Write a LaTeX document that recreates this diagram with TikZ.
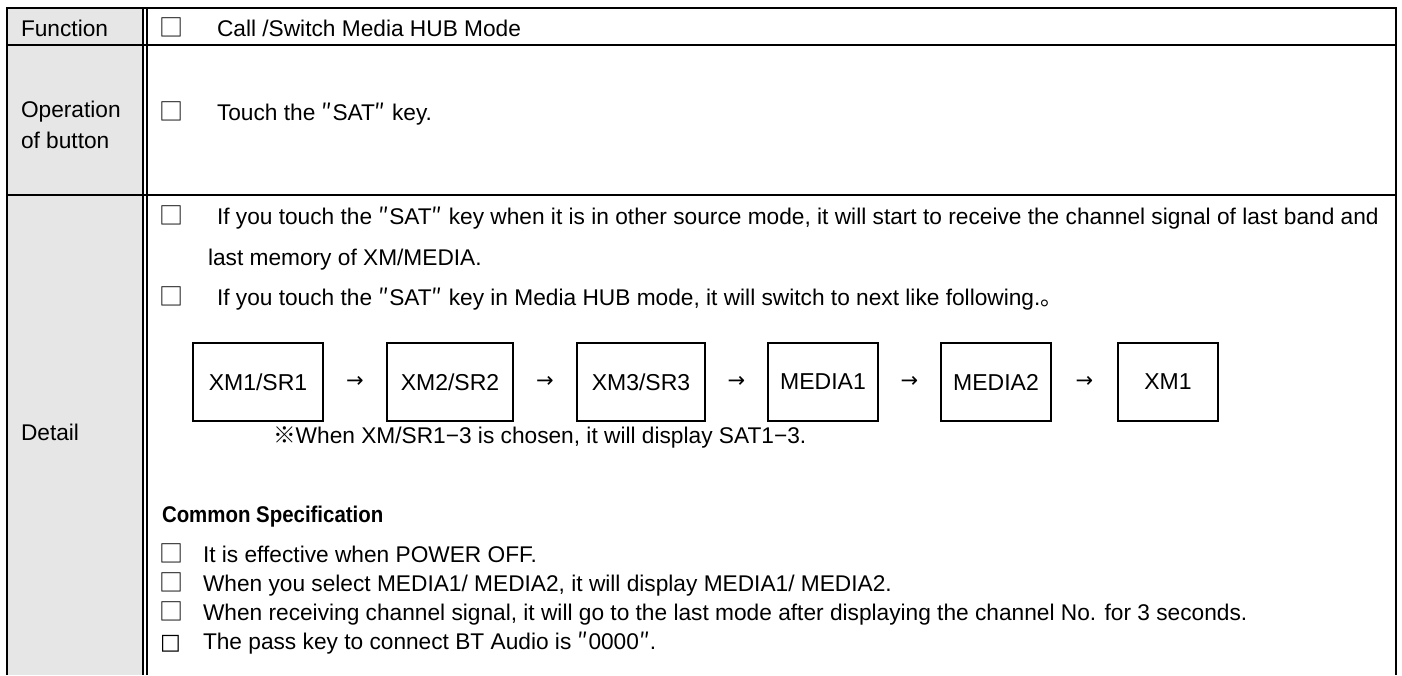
\documentclass[tikz,border=0pt]{standalone}
\usepackage{graphicx}
\usepackage{fontspec}
\setmainfont{Liberation Sans}
\newfontfamily\cjkfont{Noto Sans CJK JP}
\newfontfamily\djvfont{DejaVu Sans}
\newcommand{\ckbox}{{\cjkfont □}}
\newcommand{\dq}{{\cjkfont ″}}
\definecolor{labelgray}{HTML}{E6E6E6}
\begin{document}
\begin{tikzpicture}[x=1pt,y=-1pt,
  every node/.style={inner sep=0pt, outer sep=0pt, font=\fontsize{22.7}{26}\selectfont},
  txt/.style={anchor=base west},
  lbl/.style={anchor=base west},
  cbox/.style={anchor=base west, font=\fontsize{24}{26}\selectfont},
  flowbox/.style={draw, line width=1.6pt, minimum height=78pt, anchor=center, font=\fontsize{23}{26}\selectfont},
  arrowtxt/.style={font=\fontsize{21}{24}\djvfont}]
\useasboundingbox (0,0) rectangle (1402,675);
% label column
\fill[labelgray] (7,8) rectangle (143,675);
% frame
\draw[line width=2pt] (7,675) -- (7,8) -- (1396,8) -- (1396,675);
\draw[line width=1.7pt] (7,45) -- (1396,45);
\draw[line width=1.7pt] (7,195) -- (1396,195);
\draw[line width=1.3pt] (143,8) -- (143,675);
\draw[line width=1.3pt] (147,8) -- (147,675);
% labels
\node[lbl] (lfun) at (21,36) {Function};
\node[lbl] (lop1) at (21,117) {Operation};
\node[lbl] (lop2) at (21,148) {of button};
\node[lbl] (ldet) at (21,440) {Detail};
% row 1
\node[cbox] (c1) at (159,36) {\ckbox};
\node[txt] (t1) at (217,36) {Call /Switch Media HUB Mode};
% row 2
\node[cbox] (c2) at (159,120) {\ckbox};
\node[txt] (t2) at (217,120) {Touch the \dq SAT\dq\ key.};
% detail
\node[cbox] (c3) at (159,224) {\ckbox};
\node[txt] (t3) at (217,224) {If you touch the \dq SAT\dq\ key when it is in other source mode, it will start to receive the channel signal of last band and};
\node[txt] (t4) at (208,265) {last memory of XM/MEDIA.};
\node[cbox] (c5) at (159,305) {\ckbox};
\node[txt] (t5) at (217,305) {If you touch the \dq SAT\dq\ key in Media HUB mode, it will switch to next like following.{\cjkfont 。}};
% flow
\node[flowbox, minimum width=130pt] (b1) at (258,382) {XM1/SR1};
\node[flowbox, minimum width=126pt] (b2) at (450,382) {XM2/SR2};
\node[flowbox, minimum width=128pt] (b3) at (641,382) {XM3/SR3};
\node[flowbox, minimum width=110pt] (b4) at (823,382) {MEDIA1};
\node[flowbox, minimum width=110pt] (b5) at (996,382) {MEDIA2};
\node[flowbox, minimum width=100pt] (b6) at (1168,382) {XM1};
\path (b1) -- node[arrowtxt] (a1) {→} (b2);
\path (b2) -- node[arrowtxt] (a2) {→} (b3);
\path (b3) -- node[arrowtxt] (a3) {→} (b4);
\path (b4) -- node[arrowtxt] (a4) {→} (b5);
\path (b5) -- node[arrowtxt] (a5) {→} (b6);
\node[txt] (note) at (273,443) {{\cjkfont ※}When XM/SR1−3 is chosen, it will display SAT1−3.};
% common spec
\node[txt, font=\fontsize{22.7}{26}\selectfont\bfseries] (cs) at (162,522) {\scalebox{0.9}[1]{Common Specification}};
\node[cbox] (c6) at (159,562) {\ckbox};
\node[txt] (t6) at (203,562) {It is effective when POWER OFF.};
\node[cbox] (c7) at (159,591) {\ckbox};
\node[txt] (t7) at (203,591) {When you select MEDIA1/ MEDIA2, it will display MEDIA1/ MEDIA2.};
\node[cbox] (c8) at (159,620) {\ckbox};
\node[txt] (t8) at (203,620) {When receiving channel signal, it will go to the last mode after displaying the channel No. for 3 seconds.};
\node[anchor=base west, font=\fontsize{22}{24}\djvfont] (c9) at (160,649) {□};
\node[txt] (t9) at (203,649) {The pass key to connect BT Audio is \dq 0000\dq.};
\end{tikzpicture}
\end{document}
